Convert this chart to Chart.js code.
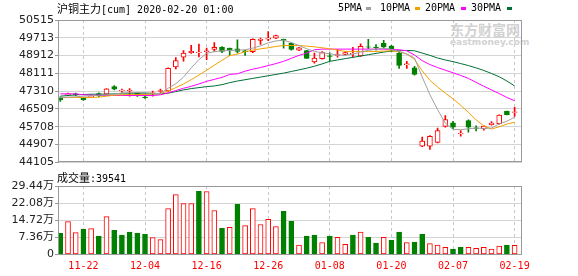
<!DOCTYPE html>
<html>
<head>
<meta charset="utf-8">
<script src="https://cdn.jsdelivr.net/npm/chart.js@4"></script>
<style>
  body { margin: 0; background: #fff; width: 578px; height: 276px; overflow: hidden; position: relative; }
  canvas { position: absolute; left: 0; }
  #main { top: 0; }
  #vol { top: 170px; }
  .t { position: absolute; white-space: nowrap; font-family: "DejaVu Sans Mono", monospace; font-size: 10px; color: #000; line-height: 12px; }
  .cjk { font-family: "Noto Sans CJK SC"; font-size: 11px; }
  .sq { position: absolute; width: 5px; height: 3px; }
  .wm { position: absolute; color: #d2d2d2; font-weight: bold; white-space: nowrap; }
</style>
</head>
<body>
<div class="wm" style="left:450px;top:20px;font-family:'Noto Sans CJK SC';font-size:14px;line-height:18px;">东方财富网</div>
<div class="wm" style="left:450px;top:37px;font-family:'DejaVu Sans';font-size:9px;line-height:11px;">eastmoney.com</div>
<canvas id="main" width="578" height="170"></canvas>
<canvas id="vol" width="578" height="106"></canvas>
<div class="t" style="left:57px;top:2px;"><span class="cjk">沪铜主力</span>[cum] 2020-02-20 01:00</div>
<div class="t" style="left:338px;top:2px;">5PMA</div><div class="sq" style="left:366px;top:7px;background:#a0a0a0"></div>
<div class="t" style="left:380px;top:2px;">10PMA</div><div class="sq" style="left:415px;top:7px;background:#f5a000"></div>
<div class="t" style="left:425px;top:2px;">20PMA</div><div class="sq" style="left:461px;top:7px;background:#ff00ff"></div>
<div class="t" style="left:471px;top:2px;">30PMA</div><div class="sq" style="left:507px;top:7px;background:#006f35"></div>
<div class="t" style="left:57px;top:171px;"><span class="cjk">成交量</span>:39541</div>
<script>
const dates = ["11-19","11-20","11-21","11-22","11-25","11-26","11-27","11-28","11-29","12-02",
  "12-03","12-04","12-05","12-06","12-09","12-10","12-11","12-12","12-13","12-16",
  "12-17","12-18","12-19","12-20","12-23","12-24","12-25","12-26","12-27","12-30",
  "12-31","01-02","01-03","01-06","01-07","01-08","01-09","01-10","01-13","01-14",
  "01-15","01-16","01-17","01-20","01-21","01-22","01-23","02-03","02-04","02-05",
  "02-06","02-07","02-10","02-11","02-12","02-13","02-14","02-17","02-18","02-19"];

const opens = [46990,47150,47190,46990,47050,47205,47176,47517,47320,47320,
  47220,47050,47210,47300,47320,48405,48840,49050,49040,49090,
  49190,49280,49250,49220,49130,49090,49600,49650,49700,49640,
  49460,49160,49140,48630,48770,48900,48920,48960,48990,48900,
  49310,49300,49470,49340,49030,48500,48360,44840,44840,45010,
  45720,45890,45400,45990,45660,45620,45800,45850,46400,46350];
const highs = [47060,47230,47220,47010,47130,47240,47430,47560,47400,47430,
  47250,47120,47320,47400,48360,48820,49140,49370,49430,49250,
  49500,49320,49250,49620,49160,49670,49700,49990,49840,49660,
  49490,49280,49150,49030,49090,49040,49200,49090,49280,49440,
  49640,49410,49600,49370,49100,48660,48430,45250,45310,45650,
  46210,45950,45540,46020,45750,45750,45940,46250,46410,46580];
const lows = [46850,47120,47110,46900,47020,47060,47160,47370,47250,47090,
  47070,46980,47090,47250,47300,48310,48660,49010,48850,48730,
  49100,49040,48910,49030,48920,49040,49420,49580,49680,49250,
  49160,49130,48780,48570,48750,48660,48840,48940,48840,48870,
  49220,49160,49250,49100,48330,48330,48030,44810,44690,44980,
  45690,45620,45290,45470,45520,45560,45780,45830,46240,46180];
const closes = [46920,47190,47140,46930,47080,47100,47413,47398,47350,47360,
  47130,47020,47240,47340,48345,48690,49030,49100,49070,49130,
  49280,49100,49160,49100,49090,49640,49650,49700,49810,49600,
  49190,49260,48790,48800,49050,48870,48960,49050,49020,49330,
  49290,49270,49300,49220,48470,48540,48060,45060,45280,45540,
  46030,45690,45430,45690,45630,45740,45880,46230,46250,46380];

const ma5 = [47027,47042,47057,47086,47101,47131,47146,47175,47235,47249,
  47249,47249,47220,47205,47442,47649,47945,48360,48730,49012,
  49086,49130,49145,49160,49175,49249,49352,49486,49575,49604,
  49500,49367,49219,49101,49041,48997,48938,48923,48982,49071,
  49145,49204,49249,49190,49101,48982,48804,47950,47150,46480,
  45872,45591,45576,45620,45650,45635,45650,45842,45961,46138];
const ma10 = [47027,47027,47027,47027,47027,47042,47086,47131,47146,47160,
  47160,47160,47190,47205,47309,47471,47635,47827,48034,48256,
  48479,48701,48908,48982,49086,49160,49219,49264,49323,49367,
  49367,49367,49338,49308,49264,49219,49160,49101,49101,49101,
  49101,49101,49115,49130,49086,48982,48740,48230,47800,47501,
  47220,46968,46672,46361,46020,45753,45605,45709,45828,45916];
const ma20 = [47190,47190,47190,47146,47131,47131,47116,47116,47116,47116,
  47116,47116,47116,47146,47235,47338,47442,47531,47635,47753,
  47842,47931,48064,48094,48212,48301,48375,48464,48553,48656,
  48790,48923,49026,49175,49204,49204,49204,49204,49204,49204,
  49204,49204,49204,49190,49175,49130,48938,48686,48508,48375,
  48256,48138,48019,47886,47708,47531,47368,47205,47027,46879];
const ma30 = [47086,47116,47146,47160,47175,47175,47175,47190,47190,47190,
  47190,47190,47190,47190,47220,47294,47368,47427,47471,47516,
  47546,47605,47694,47768,47827,47886,47945,48005,48064,48123,
  48197,48271,48345,48434,48538,48656,48716,48775,48834,48893,
  48953,49012,49071,49115,49130,49145,49130,49026,48923,48804,
  48716,48641,48553,48464,48360,48242,48108,47960,47768,47546];

// volume in 万 (10k lots); volUp = 1 when the bar is drawn red
const volumes = [9.15,14.1,9.4,10.9,11.1,7.9,16.3,10.4,8.3,9.6,
  9.1,8.7,7.3,6.4,19.7,25.7,21.9,21.9,27.2,27.0,
  18.9,11.3,11.7,21.6,12.4,19.7,12.9,15.1,12.0,18.6,
  14.3,4.0,7.9,8.3,5.1,7.9,7.4,4.4,8.3,9.6,
  7.4,4.9,7.4,6.1,9.6,5.1,5.3,8.7,4.7,4.0,
  3.1,2.3,3.1,3.1,2.6,3.1,2.3,3.6,4.0,3.95];
const volUp = [0,1,1,0,1,0,1,0,0,0,
  0,0,1,1,1,1,1,1,0,1,
  1,0,1,0,1,1,1,1,1,0,
  0,1,0,0,1,0,1,1,0,1,
  0,0,1,0,0,1,0,0,1,1,
  1,0,0,1,1,1,1,1,0,1];

const priceTicks = [50515,49713,48912,48111,47310,46509,45708,44907,44105];
const volTicks = [0,7.36,14.72,22.08,29.44];
const tickIdx = [3,11,19,27,35,43,51,59];

const RED = '#ff0000', GREEN = '#008000';
const up = i => closes[i] >= opens[i];

const frame = {
  id: 'frame',
  afterDatasetsDraw(chart) {
    const a = chart.chartArea, c = chart.ctx;
    c.save();
    c.strokeStyle = '#999';
    c.lineWidth = 1;
    c.strokeRect(Math.round(a.left) + 0.5, Math.round(a.top) + 0.5,
      Math.round(a.right - a.left) - 1, Math.round(a.bottom - a.top) - 1);
    c.restore();
  }
};

function xScale(showLabels) {
  return {
    type: 'linear', min: -0.3, max: 59.96, offset: false,
    afterBuildTicks: s => { s.ticks = tickIdx.map(v => ({ value: v })); },
    afterFit: s => { s.height = showLabels ? 21.5 : 5.5; },
    ticks: {
      display: showLabels, autoSkip: false, maxRotation: 0, padding: 6,
      color: RED, font: { family: 'DejaVu Sans Mono', size: 10 },
      callback: v => dates[v]
    },
    grid: { color: '#c8c8c8', drawTicks: false, offset: false },
    border: { display: false, dash: [3, 3] }
  };
}

const yFont = { family: '"DejaVu Sans", "Noto Sans CJK SC"', size: 11 };

new Chart(document.getElementById('main'), {
  type: 'bar',
  data: {
    datasets: [
      { type: 'line', label: '5PMA', data: ma5.map((v, i) => ({ x: i, y: v })),
        borderColor: '#a0a0a0', borderWidth: 1, pointRadius: 0, order: 0 },
      { type: 'line', label: '10PMA', data: ma10.map((v, i) => ({ x: i, y: v })),
        borderColor: '#f5a000', borderWidth: 1, pointRadius: 0, order: 0 },
      { type: 'line', label: '20PMA', data: ma20.map((v, i) => ({ x: i, y: v })),
        borderColor: '#ff00ff', borderWidth: 1, pointRadius: 0, order: 0 },
      { type: 'line', label: '30PMA', data: ma30.map((v, i) => ({ x: i, y: v })),
        borderColor: '#006f35', borderWidth: 1, pointRadius: 0, order: 0 },
      { label: 'body', data: opens.map((o, i) => ({ x: i, y: [o, closes[i]] })),
        grouped: false, barThickness: 5, borderWidth: 1, borderSkipped: false,
        backgroundColor: c => up(c.dataIndex) ? '#fff' : GREEN,
        borderColor: c => up(c.dataIndex) ? RED : GREEN, order: 1 },
      { label: 'wick', data: lows.map((l, i) => ({ x: i, y: [l, highs[i]] })),
        grouped: false, barThickness: 1, borderWidth: 0,
        backgroundColor: c => up(c.dataIndex) ? RED : GREEN, order: 2 }
    ]
  },
  options: {
    responsive: false, animation: false,
    layout: { padding: { left: 0, right: 56, top: 20, bottom: 0 } },
    plugins: { legend: { display: false }, tooltip: { enabled: false } },
    scales: {
      x: xScale(false),
      y: {
        min: 44105, max: 50515,
        afterBuildTicks: s => { s.ticks = priceTicks.map(v => ({ value: v })); },
        afterFit: s => { s.width = 58; },
        ticks: { color: '#222', font: yFont, padding: 1, callback: v => String(v) },
        grid: { color: '#d4d4d4', tickLength: 3, tickColor: '#999' },
        border: { color: '#999' }
      }
    }
  },
  plugins: [frame]
});

new Chart(document.getElementById('vol'), {
  type: 'bar',
  data: {
    datasets: [
      { label: 'vol', data: volumes.map((v, i) => ({ x: i, y: v })),
        grouped: false, barThickness: 5, borderWidth: 1, borderSkipped: false,
        backgroundColor: c => volUp[c.dataIndex] ? '#fff' : GREEN,
        borderColor: c => volUp[c.dataIndex] ? RED : GREEN }
    ]
  },
  options: {
    responsive: false, animation: false,
    layout: { padding: { left: 0, right: 56, top: 16, bottom: 0 } },
    plugins: { legend: { display: false }, tooltip: { enabled: false } },
    scales: {
      x: xScale(true),
      y: {
        min: 0, max: 29.44,
        afterBuildTicks: s => { s.ticks = volTicks.map(v => ({ value: v })); },
        afterFit: s => { s.width = 58; },
        ticks: { color: '#222', font: yFont, padding: 1,
          callback: v => v === 0 ? '0' : v.toFixed(2) + '万' },
        grid: { color: '#d4d4d4', tickLength: 3, tickColor: '#999' },
        border: { color: '#999' }
      }
    }
  },
  plugins: [frame]
});
</script>
</body>
</html>
